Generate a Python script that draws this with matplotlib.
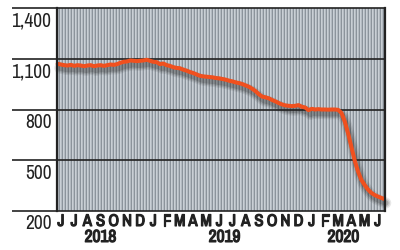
import numpy as np
import matplotlib
matplotlib.use("Agg")
import matplotlib.pyplot as plt
import matplotlib.patheffects as pe
import matplotlib.transforms as mtransforms
from matplotlib import font_manager
from matplotlib.colors import to_rgb

# ---- data ----
months = [-0.25, 0.0, 0.25, 0.5, 0.75, 1.0, 1.25, 1.5, 1.75, 2.0, 2.25, 2.5, 2.75, 3.0,
          3.25, 3.5, 3.75, 4.0, 4.25, 4.5, 4.75, 5.0, 5.25, 5.5, 5.75, 6.0, 6.25, 6.5,
          6.75, 7.0, 7.25, 7.5, 7.75, 8.0, 8.25, 8.5, 8.75, 9.0, 9.25, 9.5, 9.75, 10.0,
          10.25, 10.5, 10.75, 11.0, 11.25, 11.5, 11.75, 12.0, 12.25, 12.5, 12.75, 13.0,
          13.25, 13.5, 13.75, 14.0, 14.25, 14.5, 14.75, 15.0, 15.25, 15.5, 15.75, 16.0,
          16.25, 16.5, 16.75, 17.0, 17.25, 17.5, 17.75, 18.0, 18.25, 18.5, 18.75, 19.0,
          19.25, 19.5, 19.75, 20.0, 20.25, 20.5, 20.75, 21.0, 21.25, 21.5, 21.75, 22.0,
          22.25, 22.5, 22.75, 23.0, 23.25, 23.5, 23.75, 24.0, 24.25, 24.45]
values = [1070, 1066, 1062, 1060, 1064, 1058, 1062, 1060, 1056, 1060, 1062, 1056, 1060, 1062,
          1058, 1062, 1066, 1064, 1068, 1076, 1082, 1084, 1090, 1088, 1086, 1088, 1090, 1094,
          1088, 1082, 1080, 1068, 1072, 1062, 1058, 1050, 1046, 1044, 1036, 1030, 1022, 1016,
          1008, 1000, 996, 994, 992, 990, 986, 984, 980, 976, 970, 966,
          960, 956, 950, 942, 934, 922, 908, 890, 876, 872, 866, 856,
          848, 838, 830, 824, 822, 820, 822, 826, 816, 812, 796, 804,
          800, 802, 800, 800, 799, 800, 800, 798, 780, 730, 660, 580,
          500, 435, 385, 355, 328, 308, 295, 286, 278, 272]
month_labels = ["J", "J", "A", "S", "O", "N", "D", "J", "F", "M", "A", "M", "J",
                "J", "A", "S", "O", "N", "D", "J", "F", "M", "A", "M", "J"]
year_labels = ["2018", "2019", "2020"]
year_pos = [3.0, 12.4, 21.4]
y_ticks = [200, 500, 800, 1100, 1400]
y_tick_labels = ["200", "500", "800", "1,100", "1,400"]

# look for a narrow face
cond_family = None
for f in font_manager.fontManager.ttflist:
    if "narrow" in f.name.lower() or "condensed" in f.name.lower():
        cond_family = f.name
        break
if cond_family is None:
    cond_family = "DejaVu Sans"
    ysize, msize, yrsize = 10.5, 9.5, 10
else:
    ysize, msize, yrsize = 14, 12, 12.5

plt.rcParams['font.family'] = [cond_family, 'DejaVu Sans']

fig = plt.figure(figsize=(4.0, 2.51), dpi=100)
ax = fig.add_axes([57/400, 1-212/251, 328/400, 203/251])
ax.set_xlim(-0.3, 24.55)
ax.set_ylim(200, 1400)

# striped background
light = np.array(to_rgb("#c9cfd5"))
mid = np.array(to_rgb("#b3bac1"))
dark = np.array(to_rgb("#8b939b"))
pattern = [[light, mid, dark][i % 3] for i in range(328)]
img = np.array([pattern])
ax.imshow(img, extent=[0, 1, 0, 1], transform=ax.transAxes, aspect='auto',
          interpolation='nearest', zorder=0)

# gridlines extending left
trans = mtransforms.blended_transform_factory(ax.transAxes, ax.transData)
for v in y_ticks:
    ax.plot([-45/328, 1.0], [v, v], transform=trans, color="#222222", lw=1.2,
            clip_on=False, zorder=2, solid_capstyle='butt')

# line with soft shadow
shadow = [pe.SimpleLineShadow(offset=(1.5, -3.0), shadow_color='#222222', alpha=a, linewidth=w)
          for a, w in [(0.10, 8.0), (0.14, 6.0), (0.2, 4.0)]]
ax.plot(months, values, color="#f0501e", lw=2.9, zorder=3, clip_on=False,
        solid_capstyle='round', solid_joinstyle='round',
        path_effects=shadow + [pe.Normal()])

for s in ["top", "bottom"]:
    ax.spines[s].set_visible(False)
for s in ["left", "right"]:
    ax.spines[s].set_linewidth(1.6)
    ax.spines[s].set_color("#222222")
    ax.spines[s].set_zorder(4)

ax.set_xticks([])
ax.set_yticks([])

bold_fx = [pe.withStroke(linewidth=0.9, foreground="#222222")]

# y labels (below gridlines)
for v, lab in zip(y_ticks, y_tick_labels):
    ax.annotate(lab, xy=(0, v), xycoords=trans, xytext=(-4, -8.5), textcoords='offset points',
                ha='right', va='center', fontsize=ysize, color="#222222")

# month labels
xtrans = mtransforms.blended_transform_factory(ax.transData, ax.transAxes)
for i, lab in enumerate(month_labels):
    ax.annotate(lab, xy=(i, 0), xycoords=xtrans, xytext=(0, -7.5), textcoords='offset points',
                ha='center', va='center', fontsize=msize, fontweight='bold', color="#222222",
                path_effects=bold_fx)
for p, lab in zip(year_pos, year_labels):
    ax.annotate(lab, xy=(p, 0), xycoords=xtrans, xytext=(0, -19), textcoords='offset points',
                ha='center', va='center', fontsize=yrsize, fontweight='bold', color="#222222",
                path_effects=bold_fx)

fig.savefig("out.png", dpi=100)
